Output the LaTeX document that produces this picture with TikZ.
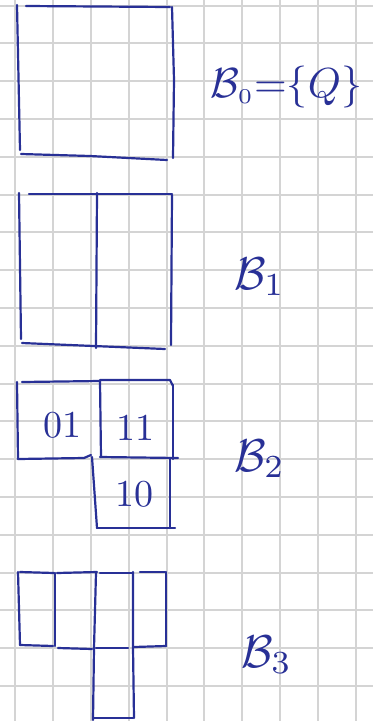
\documentclass[tikz,border=0pt]{standalone}
\usepackage{graphicx}
\usepackage{amsmath}
\definecolor{ink}{RGB}{40,48,150}
\definecolor{gridc}{RGB}{212,212,212}
\begin{document}
\begin{tikzpicture}[x=1pt,y=-1pt,
  pen/.style={draw=ink, line width=2.2pt, line cap=round, line join=round},
  gridline/.style={draw=gridc, line width=2pt},
  setlabel/.style={text=ink, anchor=base west, inner sep=0pt},
  cellcode/.style={text=ink, inner sep=0pt}]
\fill[white] (0,0) rectangle (373,721);
\useasboundingbox (0,0) rectangle (373,721);
% squared paper
\foreach \i in {0,...,9} \draw[gridline] ({15.3+37.8*\i},0) -- ({15.3+37.8*\i},721);
\foreach \j in {0,...,19} \draw[gridline] (0,{5.5+37.8*\j}) -- (373,{5.5+37.8*\j});
% B0
\draw[pen] (17,5) -- (20,150);
\draw[pen] (26,6) -- (170,7);
\draw[pen] (172,7) -- (174,80) -- (173,158);
\draw[pen] (21,154) -- (90,156) -- (167,160);
\node[setlabel] (b0) at (210,97) {\scalebox{4.2}{$\mathcal{B}_{\scriptscriptstyle 0}{=}\{Q\}$}};
% B1
\draw[pen] (19,193) -- (21,339);
\draw[pen] (29,194) -- (172,194);
\draw[pen] (172,195) -- (171,345);
\draw[pen] (22,343) -- (165,349);
\draw[pen] (97,193) -- (96,348);
\node[setlabel] (b1) at (234,289) {\scalebox{4.6}{$\mathcal{B}_1$}};
% B2
\draw[pen] (17,382) -- (18,459);
\draw[pen] (22,382) -- (100,381);
\draw[pen] (18,459) -- (84,458) -- (91,455);
\draw[pen] (100,381) -- (101,457);
\draw[pen] (100,380) -- (170,380) -- (173,386);
\draw[pen] (173,385) -- (173,459);
\draw[pen] (100,457) -- (178,458);
\draw[pen] (92,457) -- (97,528);
\draw[pen] (97,528) -- (175,528);
\draw[pen] (170,458) -- (170,528);
\node[cellcode] (c01) at (62,425) {\scalebox{3.8}{01}};
\node[cellcode] (c11) at (135,428) {\scalebox{3.8}{11}};
\node[cellcode] (c10) at (134,494) {\scalebox{3.8}{10}};
\node[setlabel] (b2) at (234,471) {\scalebox{4.6}{$\mathcal{B}_2$}};
% B3
\draw[pen] (18,572) -- (20,645);
\draw[pen] (20,572) -- (54,573);
\draw[pen] (20,645) -- (53,646);
\draw[pen] (55,573) -- (55,646);
\draw[pen] (57,573) -- (97,572);
\draw[pen] (58,648) -- (92,649);
\draw[pen] (96,573) -- (94,648) -- (93,720);
\draw[pen] (100,573) -- (133,573);
\draw[pen] (96,648) -- (128,648);
\draw[pen] (133,572) -- (133,647) -- (134,718);
\draw[pen] (140,572) -- (165,572);
\draw[pen] (166,572) -- (166,646);
\draw[pen] (134,647) -- (166,646);
\draw[pen] (93,718) -- (133,718);
\node[setlabel] (b3) at (241,667) {\scalebox{4.6}{$\mathcal{B}_3$}};
\end{tikzpicture}
\end{document}
